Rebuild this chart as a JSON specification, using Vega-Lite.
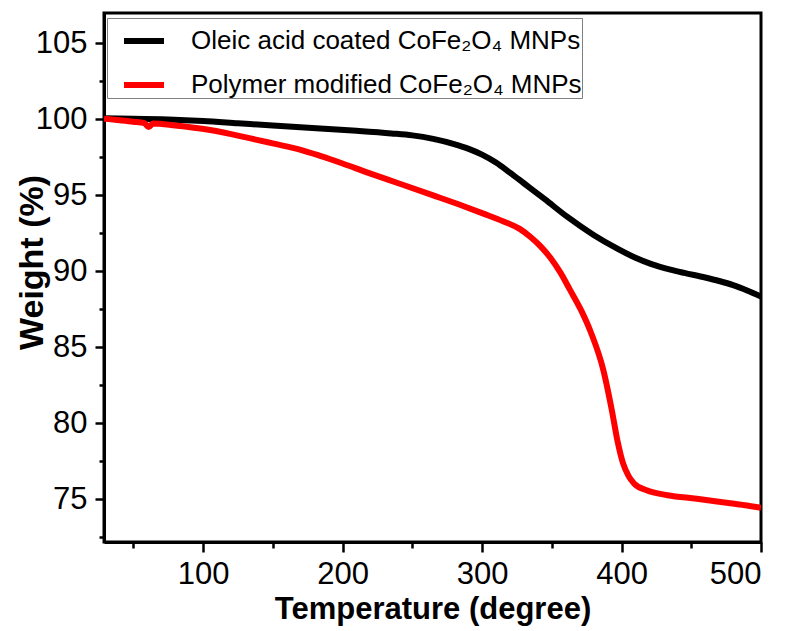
{
  "$schema": "https://vega.github.io/schema/vega-lite/v6.json",
  "autosize": {"type": "none"},
  "padding": {"left": 104, "top": 13, "right": 30, "bottom": 89},
  "width": 657,
  "height": 529,
  "background": "white",
  "config": {
    "view": {"stroke": "black", "strokeWidth": 3},
    "font": "Liberation Sans",
    "axis": {"grid": false, "domainColor": "black", "domainWidth": 3, "tickColor": "black", "tickWidth": 2.5, "labelColor": "black", "titleColor": "black", "labelFont": "Liberation Sans", "titleFont": "Liberation Sans"}
  },
  "data": {"values": [
    {"series": "Oleic acid coated CoFe₂O₄ MNPs", "T": 29, "W": 100.07},
    {"series": "Oleic acid coated CoFe₂O₄ MNPs", "T": 50, "W": 100.05},
    {"series": "Oleic acid coated CoFe₂O₄ MNPs", "T": 75, "W": 100.0},
    {"series": "Oleic acid coated CoFe₂O₄ MNPs", "T": 100, "W": 99.9},
    {"series": "Oleic acid coated CoFe₂O₄ MNPs", "T": 125, "W": 99.75},
    {"series": "Oleic acid coated CoFe₂O₄ MNPs", "T": 150, "W": 99.6},
    {"series": "Oleic acid coated CoFe₂O₄ MNPs", "T": 184, "W": 99.4},
    {"series": "Oleic acid coated CoFe₂O₄ MNPs", "T": 210, "W": 99.25},
    {"series": "Oleic acid coated CoFe₂O₄ MNPs", "T": 235, "W": 99.08},
    {"series": "Oleic acid coated CoFe₂O₄ MNPs", "T": 250, "W": 98.95},
    {"series": "Oleic acid coated CoFe₂O₄ MNPs", "T": 265, "W": 98.72},
    {"series": "Oleic acid coated CoFe₂O₄ MNPs", "T": 280, "W": 98.38},
    {"series": "Oleic acid coated CoFe₂O₄ MNPs", "T": 290, "W": 98.08},
    {"series": "Oleic acid coated CoFe₂O₄ MNPs", "T": 300, "W": 97.68},
    {"series": "Oleic acid coated CoFe₂O₄ MNPs", "T": 310, "W": 97.16},
    {"series": "Oleic acid coated CoFe₂O₄ MNPs", "T": 320, "W": 96.5},
    {"series": "Oleic acid coated CoFe₂O₄ MNPs", "T": 330, "W": 95.8},
    {"series": "Oleic acid coated CoFe₂O₄ MNPs", "T": 345, "W": 94.75},
    {"series": "Oleic acid coated CoFe₂O₄ MNPs", "T": 361, "W": 93.6},
    {"series": "Oleic acid coated CoFe₂O₄ MNPs", "T": 380, "W": 92.4},
    {"series": "Oleic acid coated CoFe₂O₄ MNPs", "T": 397, "W": 91.5},
    {"series": "Oleic acid coated CoFe₂O₄ MNPs", "T": 410, "W": 90.9},
    {"series": "Oleic acid coated CoFe₂O₄ MNPs", "T": 421, "W": 90.5},
    {"series": "Oleic acid coated CoFe₂O₄ MNPs", "T": 435, "W": 90.12},
    {"series": "Oleic acid coated CoFe₂O₄ MNPs", "T": 445, "W": 89.9},
    {"series": "Oleic acid coated CoFe₂O₄ MNPs", "T": 460, "W": 89.6},
    {"series": "Oleic acid coated CoFe₂O₄ MNPs", "T": 470, "W": 89.37},
    {"series": "Oleic acid coated CoFe₂O₄ MNPs", "T": 480, "W": 89.1},
    {"series": "Oleic acid coated CoFe₂O₄ MNPs", "T": 490, "W": 88.75},
    {"series": "Oleic acid coated CoFe₂O₄ MNPs", "T": 500, "W": 88.35},
    {"series": "Polymer modified CoFe₂O₄ MNPs", "T": 29, "W": 100.05},
    {"series": "Polymer modified CoFe₂O₄ MNPs", "T": 40, "W": 99.95},
    {"series": "Polymer modified CoFe₂O₄ MNPs", "T": 50, "W": 99.85},
    {"series": "Polymer modified CoFe₂O₄ MNPs", "T": 58, "W": 99.75},
    {"series": "Polymer modified CoFe₂O₄ MNPs", "T": 61, "W": 99.5},
    {"series": "Polymer modified CoFe₂O₄ MNPs", "T": 64, "W": 99.73},
    {"series": "Polymer modified CoFe₂O₄ MNPs", "T": 80, "W": 99.6},
    {"series": "Polymer modified CoFe₂O₄ MNPs", "T": 105, "W": 99.3},
    {"series": "Polymer modified CoFe₂O₄ MNPs", "T": 134, "W": 98.75},
    {"series": "Polymer modified CoFe₂O₄ MNPs", "T": 150, "W": 98.42},
    {"series": "Polymer modified CoFe₂O₄ MNPs", "T": 170, "W": 98.0},
    {"series": "Polymer modified CoFe₂O₄ MNPs", "T": 184, "W": 97.6},
    {"series": "Polymer modified CoFe₂O₄ MNPs", "T": 200, "W": 97.1},
    {"series": "Polymer modified CoFe₂O₄ MNPs", "T": 218, "W": 96.5},
    {"series": "Polymer modified CoFe₂O₄ MNPs", "T": 240, "W": 95.8},
    {"series": "Polymer modified CoFe₂O₄ MNPs", "T": 265, "W": 95.0},
    {"series": "Polymer modified CoFe₂O₄ MNPs", "T": 285, "W": 94.35},
    {"series": "Polymer modified CoFe₂O₄ MNPs", "T": 301, "W": 93.8},
    {"series": "Polymer modified CoFe₂O₄ MNPs", "T": 315, "W": 93.3},
    {"series": "Polymer modified CoFe₂O₄ MNPs", "T": 327, "W": 92.8},
    {"series": "Polymer modified CoFe₂O₄ MNPs", "T": 335, "W": 92.25},
    {"series": "Polymer modified CoFe₂O₄ MNPs", "T": 342, "W": 91.65},
    {"series": "Polymer modified CoFe₂O₄ MNPs", "T": 349, "W": 90.9},
    {"series": "Polymer modified CoFe₂O₄ MNPs", "T": 356, "W": 89.95},
    {"series": "Polymer modified CoFe₂O₄ MNPs", "T": 363, "W": 88.8},
    {"series": "Polymer modified CoFe₂O₄ MNPs", "T": 371, "W": 87.45},
    {"series": "Polymer modified CoFe₂O₄ MNPs", "T": 378, "W": 86.0},
    {"series": "Polymer modified CoFe₂O₄ MNPs", "T": 387, "W": 83.5},
    {"series": "Polymer modified CoFe₂O₄ MNPs", "T": 393, "W": 80.9},
    {"series": "Polymer modified CoFe₂O₄ MNPs", "T": 397, "W": 78.9},
    {"series": "Polymer modified CoFe₂O₄ MNPs", "T": 401, "W": 77.4},
    {"series": "Polymer modified CoFe₂O₄ MNPs", "T": 405, "W": 76.55},
    {"series": "Polymer modified CoFe₂O₄ MNPs", "T": 409, "W": 76.05},
    {"series": "Polymer modified CoFe₂O₄ MNPs", "T": 418, "W": 75.6},
    {"series": "Polymer modified CoFe₂O₄ MNPs", "T": 433, "W": 75.28},
    {"series": "Polymer modified CoFe₂O₄ MNPs", "T": 454, "W": 75.05},
    {"series": "Polymer modified CoFe₂O₄ MNPs", "T": 478, "W": 74.75},
    {"series": "Polymer modified CoFe₂O₄ MNPs", "T": 490, "W": 74.6},
    {"series": "Polymer modified CoFe₂O₄ MNPs", "T": 500, "W": 74.45}
  ]},
  "resolve": {"axis": {"x": "independent", "y": "independent"}},
  "layer": [
    {
      "transform": [{"filter": "datum.series === 'Oleic acid coated CoFe₂O₄ MNPs'"}],
      "mark": {"type": "line", "strokeWidth": 6, "interpolate": "monotone", "clip": true},
      "encoding": {
        "x": {"field": "T", "type": "quantitative", "scale": {"domain": [29, 500], "nice": false, "zero": false},
          "axis": {"orient": "bottom", "values": [100, 200, 300, 400, 500], "tickSize": 10, "labelFontSize": 31, "labelPadding": 7, "title": "Temperature (degree)", "titleFontSize": 31, "titleFontWeight": "bold", "titleY": 76, "titleBaseline": "alphabetic"}},
        "y": {"field": "W", "type": "quantitative", "scale": {"domain": [72.2, 107], "nice": false, "zero": false},
          "axis": {"orient": "left", "values": [75, 80, 85, 90, 95, 100, 105], "tickSize": 9, "labelFontSize": 31, "labelPadding": 8, "title": "Weight (%)", "titleFontSize": 34, "titleFontWeight": "bold", "titleX": -62, "titleY": 249, "titleBaseline": "alphabetic"}},
        "color": {"field": "series", "type": "nominal", "scale": {"domain": ["Oleic acid coated CoFe₂O₄ MNPs", "Polymer modified CoFe₂O₄ MNPs"], "range": ["#000000", "#ff0000"]},
          "legend": {"title": null, "orient": "none", "legendX": 3, "legendY": 5, "symbolType": "stroke", "symbolSize": 1600, "symbolStrokeWidth": 6, "symbolOffset": 14, "labelFontSize": 26, "labelFont": "Liberation Sans", "labelColor": "black", "labelLimit": 600, "labelOffset": 24, "rowPadding": 8, "padding": 0, "strokeColor": "#808080", "fillColor": "white", "cornerRadius": 0}}
      }
    },
    {
      "transform": [{"filter": "datum.series === 'Polymer modified CoFe₂O₄ MNPs'"}],
      "mark": {"type": "line", "strokeWidth": 6, "interpolate": "monotone", "clip": true},
      "encoding": {
        "x": {"field": "T", "type": "quantitative",
          "axis": {"orient": "bottom", "values": [50, 150, 250, 350, 450], "tickSize": 6, "labels": false, "domain": false, "title": null}},
        "y": {"field": "W", "type": "quantitative",
          "axis": {"orient": "left", "values": [72.5, 77.5, 82.5, 87.5, 92.5, 97.5, 102.5], "tickSize": 5, "labels": false, "domain": false, "title": null}},
        "color": {"field": "series", "type": "nominal"}
      }
    }
  ]
}
